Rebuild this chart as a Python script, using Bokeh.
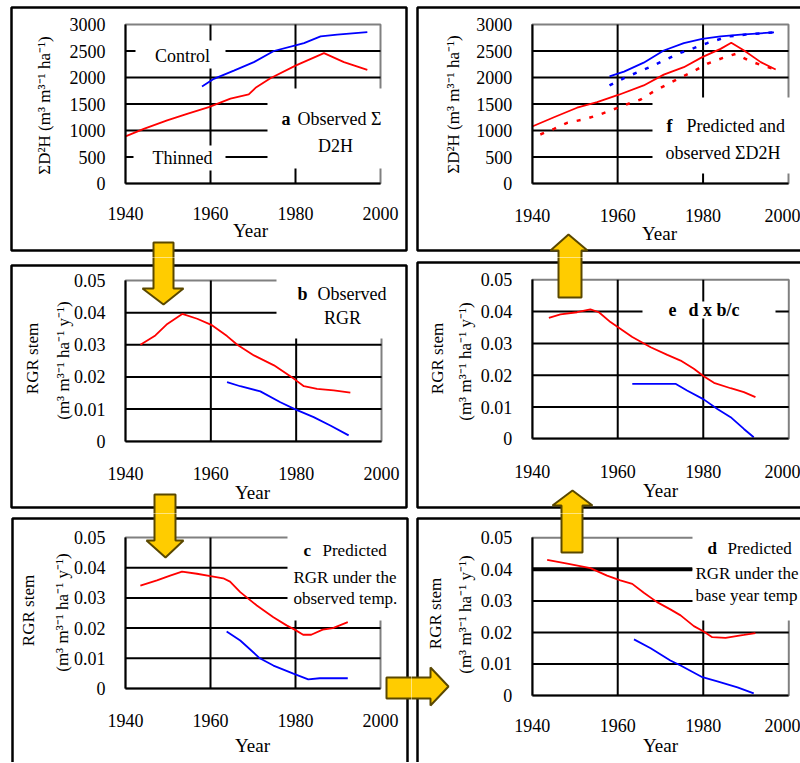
from bokeh.plotting import figure
from bokeh.models import Range1d, FixedTicker, Label, BoxAnnotation, PolyAnnotation
from bokeh.layouts import column, row
from bokeh.embed import file_html
from bokeh.resources import INLINE

# ---------------- data ----------------
x_ticks = [1940, 1960, 1980, 2000]
x_grid = [1960, 1980]
d2h_ticks = [0, 500, 1000, 1500, 2000, 2500, 3000]
d2h_tick_labels = ["0", "500", "1000", "1500", "2000", "2500", "3000"]
d2h_grid = [500, 1000, 1500, 2000, 2500]
rgr_ticks = [0, 0.01, 0.02, 0.03, 0.04, 0.05]
rgr_tick_labels = ["0", "0.01", "0.02", "0.03", "0.04", "0.05"]
rgr_grid = [0.01, 0.02, 0.03, 0.04]

# a  observed sum D2H
a_control_year = [1958.0, 1960.8, 1965.5, 1970.2, 1974.9, 1980.0, 1982.0, 1985.9, 1989.8, 1996.9]
a_control_d2h = [1830, 1975, 2130, 2290, 2500, 2605, 2650, 2775, 2810, 2855]
a_thinned_year = [1940.0, 1944.3, 1949.8, 1954.5, 1959.6, 1964.7, 1969.0, 1970.6, 1974.1, 1980.0, 1986.7, 1991.4, 1996.9]
a_thinned_d2h = [890, 1030, 1190, 1315, 1440, 1600, 1680, 1805, 1985, 2225, 2460, 2290, 2145]

# f  predicted (solid) and observed (dashed) sum D2H
f_pred_control_year = [1958.1, 1961.5, 1966.1, 1970.8, 1975.5, 1979.8, 1984.1, 1988.8, 1996.6]
f_pred_control_d2h = [2020, 2110, 2280, 2510, 2650, 2730, 2775, 2810, 2850]
f_obs_control_year = [1958.1, 1961.5, 1965.0, 1968.1, 1971.2, 1974.7, 1977.8, 1981.0, 1986.0, 1990.0, 1997.0]
f_obs_control_d2h = [1850, 1990, 2110, 2215, 2335, 2465, 2555, 2650, 2775, 2810, 2855]
f_pred_thinned_year = [1940.0, 1945.1, 1950.5, 1955.2, 1960.3, 1966.1, 1970.8, 1975.5, 1979.8, 1984.1, 1986.6, 1989.6, 1993.5, 1997.0]
f_pred_thinned_d2h = [1075, 1250, 1430, 1535, 1675, 1850, 2055, 2195, 2385, 2540, 2655, 2510, 2290, 2150]
f_obs_thinned_year = [1941.9, 1945.1, 1948.2, 1952.1, 1955.6, 1958.3, 1961.8, 1965.4, 1968.5, 1971.6, 1974.7, 1977.8, 1981.0, 1984.5, 1987.6, 1990.7, 1993.9, 1997.0]
f_obs_thinned_d2h = [925, 1030, 1145, 1210, 1295, 1375, 1485, 1585, 1740, 1870, 1995, 2120, 2260, 2365, 2445, 2320, 2225, 2150]

# b  observed RGR
b_thinned_year = [1943.5, 1947.0, 1949.8, 1953.3, 1956.8, 1960.1, 1963.8, 1966.2, 1970.1, 1974.8, 1979.5, 1981.8, 1984.9, 1988.8, 1992.7]
b_thinned_rgr = [0.030, 0.0329, 0.0365, 0.0396, 0.0381, 0.0362, 0.0327, 0.030, 0.0267, 0.0236, 0.0194, 0.0171, 0.0163, 0.0158, 0.0151]
b_control_year = [1963.8, 1966.9, 1971.6, 1976.3, 1979.8, 1984.1, 1988.0, 1992.3]
b_control_rgr = [0.0184, 0.0171, 0.0155, 0.0121, 0.0099, 0.0075, 0.0049, 0.0018]

# c  predicted RGR under the observed temperature
c_thinned_year = [1943.5, 1947.4, 1950.5, 1953.3, 1956.8, 1960.0, 1963.0, 1964.6, 1967.0, 1970.9, 1974.8, 1977.9, 1979.8, 1981.8, 1983.7, 1986.4, 1988.8, 1992.3]
c_thinned_rgr = [0.0341, 0.0358, 0.0374, 0.0387, 0.038, 0.0372, 0.0365, 0.0354, 0.0319, 0.0275, 0.0236, 0.0209, 0.0195, 0.0178, 0.0178, 0.0195, 0.020, 0.022]
c_control_year = [1963.8, 1967.0, 1971.6, 1974.8, 1979.5, 1983.0, 1985.7, 1992.3]
c_control_rgr = [0.0189, 0.0159, 0.0100, 0.0076, 0.0049, 0.0030, 0.0034, 0.0034]

# d  predicted RGR under the base year temperature
d_thinned_year = [1943.5, 1948.2, 1953.6, 1957.5, 1960.6, 1963.4, 1966.1, 1969.2, 1972.3, 1974.7, 1977.8, 1980.1, 1982.1, 1985.2, 1989.5, 1992.2]
d_thinned_rgr = [0.043, 0.0418, 0.0404, 0.038, 0.0365, 0.0354, 0.0326, 0.0296, 0.0273, 0.0254, 0.022, 0.0203, 0.0185, 0.0183, 0.0192, 0.0198]
d_control_year = [1963.8, 1967.7, 1972.3, 1974.7, 1979.8, 1983.3, 1988.0, 1991.8]
d_control_rgr = [0.0178, 0.015, 0.0111, 0.0095, 0.0058, 0.0045, 0.0026, 0.0007]
d_base_year = [1940.0, 1977.5]
d_base_rgr = [0.04, 0.04]

# e  d x b / c
e_thinned_year = [1943.9, 1946.6, 1950.5, 1953.6, 1955.6, 1958.3, 1960.6, 1963.4, 1967.7, 1971.6, 1974.7, 1977.8, 1980.1, 1982.5, 1986.4, 1989.5, 1992.2]
e_thinned_rgr = [0.038, 0.0391, 0.0398, 0.0407, 0.0398, 0.0367, 0.0346, 0.032, 0.0288, 0.0264, 0.0246, 0.022, 0.0197, 0.0176, 0.0159, 0.0147, 0.0131]
e_control_year = [1963.4, 1973.5, 1976.2, 1980.1, 1983.3, 1986.4, 1989.5, 1991.8]
e_control_rgr = [0.0173, 0.0173, 0.0152, 0.0124, 0.0094, 0.0068, 0.0031, 0.0005]

d2h_label = "ΣD²H (m³ m³⁻¹ ha⁻¹)"
rgr_label_1 = "RGR stem"
rgr_label_2 = "(m³ m³⁻¹ ha⁻¹ y⁻¹)"

# ---------------- layout / style ----------------
FONT = "Liberation Serif"
RED = "#FF0000"
BLUE = "#0000FF"
XMIN, XMAX = 1940, 2000

# canvas origin (x0, y0), canvas size (W, H), plot box in page pixels
GEOM = {
    "a": dict(x0=0, y0=0, W=411, H=257, box=(125, 24, 380, 183), ymax=3000, stand=17),
    "f": dict(x0=411, y0=0, W=389, H=257, box=(531.7, 24, 788, 183), ymax=3000, stand=19),
    "b": dict(x0=0, y0=257, W=411, H=256, box=(125, 280, 381, 440.7), ymax=0.05, stand=20),
    "e": dict(x0=411, y0=257, W=389, H=256, box=(531.7, 279.3, 788.3, 438.3), ymax=0.05, stand=20),
    "c": dict(x0=0, y0=513, W=411, H=249, box=(125, 537, 380, 688), ymax=0.05, stand=19),
    "d": dict(x0=411, y0=513, W=389, H=249, box=(531.7, 537.3, 788.3, 695), ymax=0.05, stand=17),
}


def to_data(g, px, py):
    bx1, by1, bx2, by2 = g["box"]
    x = XMIN + (px - bx1) / (bx2 - bx1) * (XMAX - XMIN)
    y = g["ymax"] * (by2 - py) / (by2 - by1)
    return x, y


def make_panel(key, yticks, ylabels, ygrid):
    g = GEOM[key]
    xs, ys = to_data(g, g["x0"], g["y0"] + g["H"])
    xe, ye = to_data(g, g["x0"] + g["W"], g["y0"])
    p = figure(width=g["W"], height=g["H"], title=None,
               x_range=Range1d(xs, xe), y_range=Range1d(ys, ye),
               output_backend="svg", toolbar_location=None,
               min_border_left=0, min_border_right=0,
               min_border_top=0, min_border_bottom=0)
    p.outline_line_color = None
    p.background_fill_color = "white"
    p.border_fill_color = "white"
    p.xgrid.visible = False
    p.ygrid.visible = False
    # grid lines of the plot box
    p.segment(x0=x_grid, y0=[0] * len(x_grid), x1=x_grid, y1=[g["ymax"]] * len(x_grid),
              line_color="black", line_width=2)
    p.segment(x0=[XMIN] * len(ygrid), y0=ygrid, x1=[XMAX] * len(ygrid), y1=ygrid,
              line_color="black", line_width=2)
    # grey plot-area border
    p.add_layout(BoxAnnotation(left=XMIN, right=XMAX, bottom=0, top=g["ymax"],
                               fill_color=None, line_color="#808080", line_alpha=1,
                               line_width=2, level="underlay"))
    for ax, ticks, loc, bnds in ((p.xaxis, x_ticks, 0, (XMIN, XMAX)),
                                 (p.yaxis, yticks, XMIN, (0, g["ymax"]))):
        ax.fixed_location = loc
        ax.bounds = bnds
        ax.ticker = FixedTicker(ticks=ticks)
        ax.axis_line_color = "black"
        ax.axis_line_width = 2
        ax.major_tick_line_color = None
        ax.minor_tick_line_color = None
        ax.major_label_text_font = FONT
        ax.major_label_text_font_size = "18px"
        ax.major_label_text_color = "black"
    p.xaxis.major_label_standoff = g["stand"]
    p.yaxis.major_label_standoff = 14
    p.yaxis.major_label_overrides = {t: s for t, s in zip(yticks, ylabels)}
    return p


def white_box(p, key, x1, y1, x2, y2):
    g = GEOM[key]
    l, t = to_data(g, x1, y1)
    r, b = to_data(g, x2, y2)
    p.add_layout(BoxAnnotation(left=l, right=r, top=t, bottom=b, fill_color="white",
                               fill_alpha=1, line_color=None, level="annotation"))


def text(p, key, s, px, py, align="left", bold=False, size="18px", angle=0):
    g = GEOM[key]
    x, y = to_data(g, px, py)
    p.add_layout(Label(x=x, y=y, text=s, text_font=FONT, text_font_size=size,
                       text_font_style="bold" if bold else "normal",
                       text_align=align, text_baseline="middle", text_color="black",
                       angle=angle, angle_units="deg"))


def panel_border(p, key, x1, y1, x2, y2):
    g = GEOM[key]
    l, t = to_data(g, x1, y1)
    r, b = to_data(g, x2, y2)
    p.add_layout(BoxAnnotation(left=l, right=r, top=t, bottom=b, fill_color=None,
                               line_color="black", line_alpha=1, line_width=2.5,
                               level="annotation"))


pa = make_panel("a", d2h_ticks, d2h_tick_labels, d2h_grid)
pf = make_panel("f", d2h_ticks, d2h_tick_labels, d2h_grid)
pb = make_panel("b", rgr_ticks, rgr_tick_labels, rgr_grid)
pe = make_panel("e", rgr_ticks, rgr_tick_labels, rgr_grid)
pc = make_panel("c", rgr_ticks, rgr_tick_labels, rgr_grid)
pd = make_panel("d", rgr_ticks, rgr_tick_labels, rgr_grid)

LW = 1.8
pa.line(a_control_year, a_control_d2h, line_color=BLUE, line_width=LW)
pa.line(a_thinned_year, a_thinned_d2h, line_color=RED, line_width=LW)
pf.line(f_pred_control_year, f_pred_control_d2h, line_color=BLUE, line_width=LW)
pf.line(f_obs_control_year, f_obs_control_d2h, line_color=BLUE, line_width=2.5, line_dash="4 9")
pf.line(f_pred_thinned_year, f_pred_thinned_d2h, line_color=RED, line_width=LW)
pf.line(f_obs_thinned_year, f_obs_thinned_d2h, line_color=RED, line_width=2.5, line_dash="4 9")
pb.line(b_thinned_year, b_thinned_rgr, line_color=RED, line_width=LW)
pb.line(b_control_year, b_control_rgr, line_color=BLUE, line_width=LW)
pc.line(c_thinned_year, c_thinned_rgr, line_color=RED, line_width=LW)
pc.line(c_control_year, c_control_rgr, line_color=BLUE, line_width=LW)
pd.line(d_base_year, d_base_rgr, line_color="black", line_width=4)
pd.line(d_thinned_year, d_thinned_rgr, line_color=RED, line_width=LW)
pd.line(d_control_year, d_control_rgr, line_color=BLUE, line_width=LW)
pe.line(e_thinned_year, e_thinned_rgr, line_color=RED, line_width=LW)
pe.line(e_control_year, e_control_rgr, line_color=BLUE, line_width=LW)

# white text boxes
white_box(pa, "a", 135, 40, 225, 68)
white_box(pa, "a", 133, 145, 225, 170)
white_box(pa, "a", 267, 88, 384, 168)
white_box(pf, "f", 652, 97, 800, 173)
white_box(pb, "b", 276, 268, 403, 338)
white_box(pe, "e", 642, 301, 775, 318)
white_box(pc, "c", 287, 522, 405, 620)
white_box(pd, "d", 692, 522, 800, 620)

# panel texts
text(pa, "a", "Control", 182, 55, align="center")
text(pa, "a", "Thinned", 182, 157, align="center")
text(pa, "a", "a", 281, 118, bold=True)
text(pa, "a", "Observed Σ", 297, 118)
text(pa, "a", "D2H", 335, 145, align="center")
text(pf, "f", "f", 666, 125, bold=True)
text(pf, "f", "Predicted and", 686, 125)
text(pf, "f", "observed ΣD2H", 665, 152)
text(pb, "b", "b", 297, 293, bold=True)
text(pb, "b", "Observed", 317, 293)
text(pb, "b", "RGR", 342, 317, align="center")
text(pe, "e", "e", 668, 309, bold=True)
text(pe, "e", "d x b/c", 688, 309, bold=True)
text(pc, "c", "c", 303, 550, bold=True, size="17px")
text(pc, "c", "Predicted", 322, 550, size="17px")
text(pc, "c", "RGR under the", 293, 577, size="17px")
text(pc, "c", "observed temp.", 293, 598, size="17px")
text(pd, "d", "d", 707, 548, bold=True, size="17px")
text(pd, "d", "Predicted", 727, 548, size="17px")
text(pd, "d", "RGR under the", 695, 573, size="17px")
text(pd, "d", "base year temp", 695, 595, size="17px")

# axis titles
text(pa, "a", d2h_label, 44, 105, align="center", size="17px", angle=90)
text(pf, "f", d2h_label, 453, 104, align="center", size="17px", angle=90)
for p, k, c1, c2 in ((pb, "b", (32, 358), (63, 360)), (pe, "e", (437, 358), (465, 361)),
                     (pc, "c", (28, 610), (62, 612)), (pd, "d", (435, 613), (465, 614))):
    text(p, k, rgr_label_1, c1[0], c1[1], align="center", size="17px", angle=90)
    text(p, k, rgr_label_2, c2[0], c2[1], align="center", size="17px", angle=90)
text(pa, "a", "Year", 250, 230, align="center", size="19px")
text(pf, "f", "Year", 659, 233, align="center", size="19px")
text(pb, "b", "Year", 252, 492, align="center", size="19px")
text(pe, "e", "Year", 660, 490, align="center", size="19px")
text(pc, "c", "Year", 252, 745, align="center", size="19px")
text(pd, "d", "Year", 660, 745, align="center", size="19px")

# panel borders
panel_border(pa, "a", 11, 7, 406, 250)
panel_border(pf, "f", 417, 7, 810, 250)
panel_border(pb, "b", 11, 265, 406, 507)
panel_border(pe, "e", 417, 262, 810, 507)
panel_border(pc, "c", 12, 518, 407, 800)
panel_border(pd, "d", 417, 518, 810, 800)


# block arrows between panels (page coordinates)
def v_arrow(x1, x2, y_end, y_head, h1, h2, tx, ty):
    return [(x1, y_end), (x2, y_end), (x2, y_head), (h2, y_head), (tx, ty), (h1, y_head), (x1, y_head)]


ARROWS = [
    v_arrow(153, 173, 242, 288, 142, 183, 163, 304),   # a -> b
    v_arrow(154, 175, 494, 540, 146, 183, 165, 557),   # b -> c
    [(386, 677), (430, 677), (430, 667), (448, 686), (430, 705), (430, 698), (386, 698)],  # c -> d
    v_arrow(561, 582, 552, 505, 552, 592, 572, 490),   # d -> e
    v_arrow(558, 581, 297, 250, 550, 587, 568, 234),   # e -> f
]

for key, p in (("a", pa), ("f", pf), ("b", pb), ("e", pe), ("c", pc), ("d", pd)):
    g = GEOM[key]
    for poly in ARROWS:
        pts = [to_data(g, x, y) for x, y in poly]
        p.add_layout(PolyAnnotation(xs=[q[0] for q in pts], ys=[q[1] for q in pts],
                                    fill_color="#FFCC00", fill_alpha=1,
                                    line_color="#5a4800", line_alpha=1, line_width=2,
                                    level="overlay"))

layout = column(row(pa, pf), row(pb, pe), row(pc, pd))
open("out.html", "w").write(file_html(layout, INLINE))
